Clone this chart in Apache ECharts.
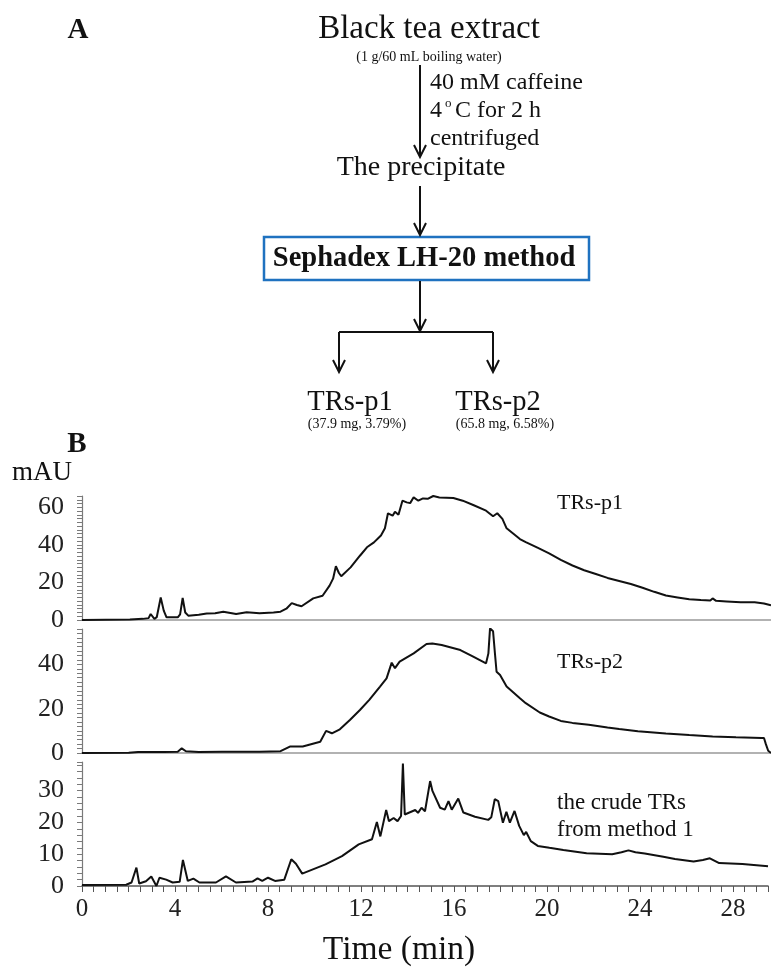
<!DOCTYPE html>
<html>
<head>
    <meta charset="utf-8">
    <title>TRs chromatograms</title>
    <script src="https://cdn.jsdelivr.net/npm/echarts@6/dist/echarts.min.js"></script>
    <style>
        html, body { margin: 0; padding: 0; background: #fff; }
        #main { width: 771px; height: 969px; }
    </style>
</head>
<body>
<div id="main"></div>
<script type="text/javascript">
    // HPLC traces (time in min, absorbance in mAU)
    var p1Time = [0, 2.05, 2.6, 2.85, 2.94, 3.1, 3.2, 3.37, 3.5, 3.62, 4.1, 4.2, 4.31, 4.42, 4.55, 5.0, 5.34, 5.7, 6.05, 6.6, 7.05, 7.6, 8.2, 8.5, 8.75, 8.98, 9.2, 9.4, 9.9, 10.3, 10.6, 10.75, 10.87, 11.0, 11.1, 11.5, 11.9, 12.2, 12.5, 12.8, 12.97, 13.1, 13.3, 13.4, 13.55, 13.72, 13.9, 14.05, 14.2, 14.4, 14.6, 14.8, 15.04, 15.3, 15.9, 16.3, 16.75, 17.3, 17.6, 17.78, 18.0, 18.18, 18.75, 19.0, 19.5, 20.0, 20.5, 21.0, 21.5, 22.0, 22.5, 23.0, 23.5, 24.0, 24.5, 25.0, 25.5, 26.0, 26.5, 26.9, 27.0, 27.15, 27.6, 28.2, 28.8, 29.2, 29.5];
    var p1Value = [0, 0.3, 0.6, 1, 3.2, 0.6, 1.5, 12, 5, 1.4, 1.4, 3, 11.7, 4, 2.3, 2.8, 3.5, 3.6, 4.4, 3.2, 4.1, 3.6, 4, 4.4, 6, 9, 8, 7.3, 11.5, 12.9, 18.3, 22, 28.6, 25, 23.3, 28, 34.2, 38.7, 41.3, 45, 48.8, 56.8, 55.5, 57.6, 56, 63.5, 62.6, 62.2, 65.3, 63.5, 64.7, 64.5, 66, 65.2, 64.9, 63.5, 61.2, 58.2, 55.2, 56.8, 53.8, 48.8, 43.1, 41.5, 38.5, 35.5, 32, 29, 26.5, 24.5, 22.4, 20.8, 19.2, 17.2, 15, 13, 12, 11, 10.6, 10.4, 11.5, 10.2, 9.9, 9.4, 9.4, 8.8, 7.8];

    var p2Time = [0, 2.0, 2.4, 3.5, 4.1, 4.27, 4.45, 5, 6, 7, 7.6, 8.5, 8.9, 9.45, 10.2, 10.45, 10.7, 11.04, 11.47, 11.9, 12.3, 12.76, 13.04, 13.26, 13.4, 13.6, 14.2, 14.75, 15.0, 15.4, 16.2, 16.75, 17.3, 17.4, 17.47, 17.6, 17.68, 17.75, 17.9, 18.18, 18.75, 19.0, 19.6, 20.0, 20.5, 21.0, 21.7, 22.5, 23.0, 23.8, 25.0, 26.0, 27.0, 28.0, 29.1, 29.2, 29.28, 29.38, 29.5];
    var p2Value = [0, 0.1, 0.5, 0.5, 0.6, 2.1, 0.8, 0.5, 0.6, 0.6, 0.6, 0.8, 2.9, 2.9, 5.1, 10, 8.9, 10.7, 14.9, 19.4, 24, 30, 33.7, 40.8, 38.3, 41.3, 45, 49.2, 49.5, 48.8, 46.5, 43.5, 40.5, 45, 56.3, 55, 45, 36.7, 35.2, 30, 24.7, 22.5, 18.3, 16.5, 14.5, 13.6, 12.8, 11.5, 10.8, 9.8, 8.8, 8.1, 7.5, 7.1, 6.8, 6.8, 4, 1, 0];

    var crudeTime = [0, 1.9, 2.13, 2.34, 2.46, 2.75, 2.98, 3.2, 3.33, 3.62, 3.9, 4.2, 4.34, 4.55, 4.79, 5.05, 5.76, 6.19, 6.62, 7.33, 7.55, 7.75, 8.0, 8.3, 8.7, 9.0, 9.2, 9.47, 10.47, 11.18, 11.9, 12.47, 12.68, 12.83, 13.08, 13.2, 13.4, 13.57, 13.72, 13.8, 13.88, 14.33, 14.45, 14.6, 14.75, 14.97, 15.07, 15.15, 15.4, 15.6, 15.76, 15.9, 16.18, 16.4, 16.9, 17.47, 17.6, 17.75, 17.9, 18.1, 18.25, 18.4, 18.6, 18.8, 19.0, 19.1, 19.3, 19.6, 20.1, 20.7, 21.7, 22.8, 23.2, 23.5, 23.8, 24.2, 25.0, 25.5, 26.3, 26.7, 27.0, 27.4, 28.4, 29.5];
    var crudeValue = [0.3, 0.4, 1.1, 5.8, 0.8, 1.5, 3, 0, 2.6, 2, 1.1, 1.3, 8.2, 1.6, 2.3, 1.1, 1.1, 3, 1.1, 1.4, 2.4, 1.6, 2.6, 1.6, 2, 8.4, 7, 3.9, 6.8, 9.4, 13.1, 14.7, 20.1, 15.6, 23.9, 20.4, 21.4, 20.4, 22, 38.5, 22.5, 23.9, 23, 24.6, 23.5, 33, 29.9, 30.4, 24.6, 24, 26.7, 24, 27.5, 23.1, 21.8, 20.8, 21.6, 27.3, 26.7, 19.9, 23.3, 19.9, 23.6, 18.9, 16, 17, 14.1, 12.6, 12, 11.3, 10.3, 10, 10.6, 11.2, 10.6, 10.2, 9.2, 8.5, 7.7, 8.2, 8.7, 7.2, 6.9, 6.2];

    var panelNames = ['TRs-p1', 'TRs-p2', 'the crude TRs\nfrom method 1'];
    var yMax = [66, 56, 39];
    var yLabels = [[0, 20, 40, 60], [0, 20, 40], [0, 10, 20, 30]];
    var timeLabels = [0, 4, 8, 12, 16, 20, 24, 28];

    function pairs(t, v) {
        var out = [];
        for (var i = 0; i < t.length; i++) {
            out.push([t[i], v[i]]);
        }
        return out;
    }

    var serif = '"Liberation Serif", "Times New Roman", serif';
    var axisGray = '#7a7a7a';
    var gridTops = [496, 629, 762];

    var grids = [], xAxes = [], yAxes = [], series = [];
    var traces = [pairs(p1Time, p1Value), pairs(p2Time, p2Value), pairs(crudeTime, crudeValue)];

    function labelFormatter(list) {
        return function (v) { return list.indexOf(Math.round(v * 10) / 10) >= 0 ? String(v) : ''; };
    }

    for (var k = 0; k < 3; k++) {
        var last = (k === 2);
        grids.push({ left: 82, top: gridTops[k], width: 689, height: 124 });
        xAxes.push({
            type: 'value', gridIndex: k, min: 0, max: 29.5, interval: 0.5,
            axisLine: { show: true, lineStyle: { color: last ? '#555' : '#999', width: 1.5 } },
            axisTick: { show: last, length: 6, lineStyle: { color: '#555' } },
            axisLabel: {
                show: last, margin: 11, fontFamily: serif, fontSize: 25, color: '#222',
                formatter: labelFormatter(timeLabels)
            },
            splitLine: { show: false }
        });
        yAxes.push({
            type: 'value', gridIndex: k, min: 0, max: yMax[k], interval: 2,
            axisLine: { show: true, lineStyle: { color: axisGray, width: 1.2 } },
            axisTick: { show: true, length: 5, lineStyle: { color: axisGray } },
            axisLabel: {
                margin: 18, fontFamily: serif, fontSize: 26, color: '#222',
                formatter: labelFormatter(yLabels[k])
            },
            splitLine: { show: false }
        });
        series.push({
            type: 'line', xAxisIndex: k, yAxisIndex: k,
            data: traces[k], showSymbol: false, symbol: 'none',
            lineStyle: { color: '#111', width: 2 },
            animation: false
        });
    }

    // flow chart (panel A) and panel labels
    function txt(x, y, s, size, opts) {
        opts = opts || {};
        return {
            type: 'text', x: x, y: y,
            style: {
                text: s, fontFamily: serif, fontSize: size,
                fontWeight: opts.bold ? 'bold' : 'normal',
                fill: '#111', align: opts.align || 'center', verticalAlign: 'middle',
                lineHeight: opts.lineHeight
            }
        };
    }
    function line(pts) {
        return { type: 'polyline', shape: { points: pts }, style: { stroke: '#111', lineWidth: 2, fill: null } };
    }
    function arrowDown(x, y1, y2) {
        return [line([[x, y1], [x, y2]]), line([[x - 6, y2 - 12], [x, y2], [x + 6, y2 - 12]])];
    }

    var graphics = [
        txt(78, 31, 'A', 29, { bold: true }),
        txt(429, 29, 'Black tea extract', 33),
        txt(429, 57, '(1 g/60 mL boiling water)', 14),
        txt(430, 83, '40 mM caffeine', 24, { align: 'left' }),
        txt(430, 111, '4', 24, { align: 'left' }),
        txt(445, 104, 'o', 13, { align: 'left' }),
        txt(455, 111, 'C for 2 h', 24, { align: 'left' }),
        txt(430, 139, 'centrifuged', 24, { align: 'left' }),
        txt(421, 168, 'The precipitate', 28),
        {
            type: 'rect', shape: { x: 264, y: 237, width: 325, height: 43 },
            style: { fill: '#fff', stroke: '#1f72c0', lineWidth: 2.5 }
        },
        txt(424, 259, 'Sephadex LH-20 method', 28.5, { bold: true }),
        line([[339, 332], [493, 332]]),
        txt(350, 403, 'TRs-p1', 28.5),
        txt(498, 403, 'TRs-p2', 28.5),
        txt(357, 424, '(37.9 mg, 3.79%)', 14),
        txt(505, 424, '(65.8 mg, 6.58%)', 14),
        txt(77, 445, 'B', 29, { bold: true }),
        txt(42, 473, 'mAU', 27),
        txt(557, 503, panelNames[0], 22, { align: 'left' }),
        txt(557, 662, panelNames[1], 22, { align: 'left' }),
        txt(557, 816, panelNames[2], 23, { align: 'left', lineHeight: 27 }),
        txt(399, 950, 'Time (min)', 33.5)
    ];
    graphics = graphics.concat(arrowDown(420, 65, 157), arrowDown(420, 186, 235),
        arrowDown(420, 281, 331), arrowDown(339, 332, 372), arrowDown(493, 332, 372));

    var myChart = echarts.init(document.getElementById('main'), null, { renderer: 'canvas' });
    var option = {
        backgroundColor: '#ffffff',
        animation: false,
        grid: grids,
        xAxis: xAxes,
        yAxis: yAxes,
        series: series,
        graphic: graphics
    };
    myChart.setOption(option);
</script>
</body>
</html>
